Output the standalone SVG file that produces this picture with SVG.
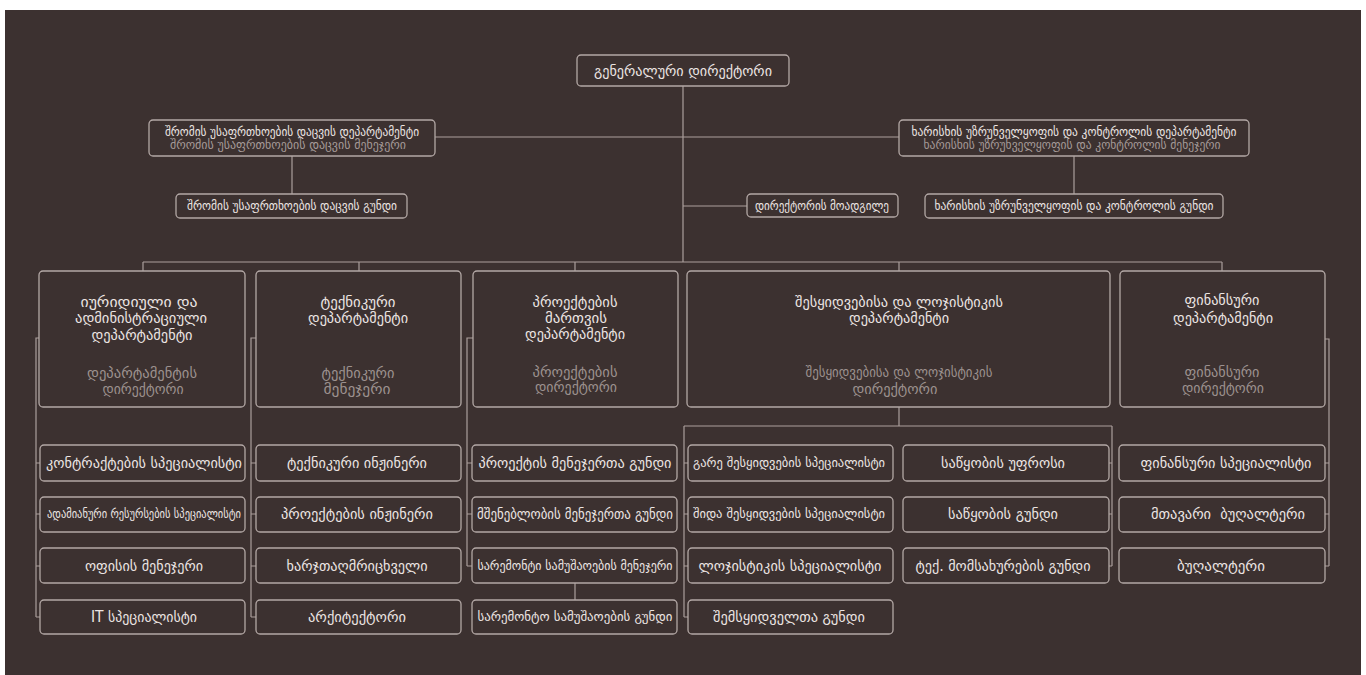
<svg xmlns="http://www.w3.org/2000/svg" width="1366" height="675" viewBox="0 0 1366 675">
<style>
.bg{fill:#3c3130}
.box{fill:#3c3130;stroke:#b3a8a5;stroke-width:1.3}
.ln{fill:none;stroke:#ab9f9c;stroke-width:1.2}
text{font-family:"DejaVu Sans","Noto Sans",sans-serif;text-anchor:middle}
.t{fill:#ece5e3;font-size:15px}
.s{fill:#9c918f;font-size:14px}
.m{fill:#ece5e3;font-size:13px}
.ms{fill:#a69b99;font-size:12.5px}
.c{fill:#ece5e3;font-size:15px}
.cs{fill:#ece5e3;font-size:12px}
</style>
<rect x="0" y="0" width="1366" height="675" fill="#ffffff"/>
<rect class="bg" x="5" y="10" width="1356" height="665"/>
<g id="connectors">
<path class="ln" d="M683,86V262M435,137H899M683,206H747M292,156V194M1074,156V194"/>
<path class="ln" d="M143,262H1222M143,262V271M359,262V271M575,262V271M899,262V271M1222,262V271"/>
<path class="ln" d="M39,338H36V617M36,463H40M36,514H40M36,566H40M36,617H40"/>
<path class="ln" d="M256,338H251V617M251,463H256M251,514H256M251,566H256M251,617H256"/>
<path class="ln" d="M473,338H467V566M467,463H472M467,514H472M467,566H472M575,583V600"/>
<path class="ln" d="M899,407V426M684,426H1112M684,426V617M684,463H688M684,514H688M684,566H688M684,617H688M1112,426V566M1112,463H1109M1112,514H1109M1112,566H1109"/>
<path class="ln" d="M1325,339H1329V566M1329,463H1325M1329,514H1325M1329,566H1325"/>
</g>
<g id="ceo"><rect class="box" x="577" y="55" width="212" height="31" rx="4"/><text class="t" x="683" y="76" textLength="178" lengthAdjust="spacingAndGlyphs">გენერალური დირექტორი</text></g>
<g id="safety-dept"><rect class="box" x="149" y="120" width="286" height="36" rx="4"/><text class="m" x="292" y="136" textLength="254" lengthAdjust="spacingAndGlyphs">შრომის უსაფრთხოების დაცვის დეპარტამენტი</text><text class="ms" x="288" y="149" textLength="236" lengthAdjust="spacingAndGlyphs">შრომის უსაფრთხოების დაცვის მენეჯერი</text></g>
<g id="quality-dept"><rect class="box" x="899" y="120" width="350" height="36" rx="4"/><text class="m" x="1074" y="136" textLength="325" lengthAdjust="spacingAndGlyphs">ხარისხის უზრუნველყოფის და კონტროლის დეპარტამენტი</text><text class="ms" x="1072" y="149" textLength="297" lengthAdjust="spacingAndGlyphs">ხარისხის უზრუნველყოფის და კონტროლის მენეჯერი</text></g>
<g id="safety-team"><rect class="box" x="176" y="194" width="231" height="24" rx="4"/><text class="m" x="292" y="210" textLength="210" lengthAdjust="spacingAndGlyphs">შრომის უსაფრთხოების დაცვის გუნდი</text></g>
<g id="deputy"><rect class="box" x="747" y="194" width="151" height="23" rx="4"/><text class="m" x="822" y="210" textLength="134" lengthAdjust="spacingAndGlyphs">დირექტორის მოადგილე</text></g>
<g id="quality-team"><rect class="box" x="925" y="194" width="298" height="24" rx="4"/><text class="m" x="1074" y="210" textLength="279" lengthAdjust="spacingAndGlyphs">ხარისხის უზრუნველყოფის და კონტროლის გუნდი</text></g>
<g id="legal-dept"><rect class="box" x="39" y="271" width="206" height="136" rx="4"/>
<text class="t" x="139" y="307" textLength="117" lengthAdjust="spacingAndGlyphs">იურიდიული და</text>
<text class="t" x="141" y="323" textLength="132" lengthAdjust="spacingAndGlyphs">ადმინისტრაციული</text>
<text class="t" x="142" y="340" textLength="101" lengthAdjust="spacingAndGlyphs">დეპარტამენტი</text>
<text class="s" x="142" y="378" textLength="110" lengthAdjust="spacingAndGlyphs">დეპარტამენტის</text>
<text class="s" x="143" y="394" textLength="81" lengthAdjust="spacingAndGlyphs">დირექტორი</text></g>
<g id="tech-dept"><rect class="box" x="256" y="271" width="205" height="136" rx="4"/>
<text class="t" x="358" y="307" textLength="75" lengthAdjust="spacingAndGlyphs">ტექნიკური</text>
<text class="t" x="358" y="323" textLength="100" lengthAdjust="spacingAndGlyphs">დეპარტამენტი</text>
<text class="s" x="358" y="378" textLength="73" lengthAdjust="spacingAndGlyphs">ტექნიკური</text>
<text class="s" x="357" y="394" textLength="67" lengthAdjust="spacingAndGlyphs">მენეჯერი</text></g>
<g id="pm-dept"><rect class="box" x="473" y="271" width="205" height="136" rx="4"/>
<text class="t" x="575" y="307" textLength="85" lengthAdjust="spacingAndGlyphs">პროექტების</text>
<text class="t" x="576" y="323" textLength="62" lengthAdjust="spacingAndGlyphs">მართვის</text>
<text class="t" x="575" y="339" textLength="100" lengthAdjust="spacingAndGlyphs">დეპარტამენტი</text>
<text class="s" x="575" y="377" textLength="85" lengthAdjust="spacingAndGlyphs">პროექტების</text>
<text class="s" x="576" y="392" textLength="82" lengthAdjust="spacingAndGlyphs">დირექტორი</text></g>
<g id="procurement-dept"><rect class="box" x="687" y="271" width="423" height="136" rx="4"/>
<text class="t" x="899" y="307" textLength="208" lengthAdjust="spacingAndGlyphs">შესყიდვებისა და ლოჯისტიკის</text>
<text class="t" x="899" y="323" textLength="100" lengthAdjust="spacingAndGlyphs">დეპარტამენტი</text>
<text class="s" x="899" y="377" textLength="187" lengthAdjust="spacingAndGlyphs">შესყიდვებისა და ლოჯისტიკის</text>
<text class="s" x="895" y="394" textLength="85" lengthAdjust="spacingAndGlyphs">დირექტორი</text></g>
<g id="finance-dept"><rect class="box" x="1120" y="271" width="205" height="136" rx="4"/>
<text class="t" x="1222" y="305" textLength="75" lengthAdjust="spacingAndGlyphs">ფინანსური</text>
<text class="t" x="1223" y="323" textLength="100" lengthAdjust="spacingAndGlyphs">დეპარტამენტი</text>
<text class="s" x="1222" y="377" textLength="75" lengthAdjust="spacingAndGlyphs">ფინანსური</text>
<text class="s" x="1223" y="393" textLength="82" lengthAdjust="spacingAndGlyphs">დირექტორი</text></g>
<g id="legal-1"><rect class="box" x="40" y="445" width="205" height="36" rx="4"/><text class="c" x="144" y="468" textLength="196" lengthAdjust="spacingAndGlyphs">კონტრაქტების სპეციალისტი</text></g>
<g id="legal-2"><rect class="box" x="40" y="497" width="205" height="35" rx="4"/><text class="cs" x="144" y="518" textLength="194" lengthAdjust="spacingAndGlyphs">ადამიანური რესურსების სპეციალისტი</text></g>
<g id="legal-3"><rect class="box" x="40" y="548" width="205" height="35" rx="4"/><text class="c" x="144" y="571" textLength="118" lengthAdjust="spacingAndGlyphs">ოფისის მენეჯერი</text></g>
<g id="legal-4"><rect class="box" x="40" y="600" width="205" height="34" rx="4"/><text class="c" x="144" y="622" textLength="106" lengthAdjust="spacingAndGlyphs">IT სპეციალისტი</text></g>
<g id="tech-1"><rect class="box" x="256" y="445" width="205" height="36" rx="4"/><text class="c" x="357" y="468" textLength="140" lengthAdjust="spacingAndGlyphs">ტექნიკური ინჟინერი</text></g>
<g id="tech-2"><rect class="box" x="256" y="497" width="205" height="35" rx="4"/><text class="c" x="357" y="519" textLength="152" lengthAdjust="spacingAndGlyphs">პროექტების ინჟინერი</text></g>
<g id="tech-3"><rect class="box" x="256" y="548" width="205" height="35" rx="4"/><text class="c" x="357" y="571" textLength="141" lengthAdjust="spacingAndGlyphs">ხარჯთაღმრიცხველი</text></g>
<g id="tech-4"><rect class="box" x="256" y="600" width="205" height="34" rx="4"/><text class="c" x="357" y="622" textLength="98" lengthAdjust="spacingAndGlyphs">არქიტექტორი</text></g>
<g id="pm-1"><rect class="box" x="472" y="445" width="205" height="36" rx="4"/><text class="c" x="575" y="468" textLength="193" lengthAdjust="spacingAndGlyphs">პროექტის მენეჯერთა გუნდი</text></g>
<g id="pm-2"><rect class="box" x="472" y="497" width="205" height="35" rx="4"/><text class="c" x="575" y="519" textLength="196" lengthAdjust="spacingAndGlyphs">მშენებლობის მენეჯერთა გუნდი</text></g>
<g id="pm-3"><rect class="box" x="472" y="548" width="205" height="35" rx="4"/><text class="cs" x="575" y="570" textLength="195" lengthAdjust="spacingAndGlyphs">სარემონტი სამუშაოების მენეჯერი</text></g>
<g id="pm-4"><rect class="box" x="472" y="600" width="205" height="34" rx="4"/><text class="cs" x="575" y="621" textLength="195" lengthAdjust="spacingAndGlyphs">სარემონტო სამუშაოების გუნდი</text></g>
<g id="proc-1"><rect class="box" x="688" y="445" width="205" height="36" rx="4"/><text class="cs" x="789" y="467" textLength="192" lengthAdjust="spacingAndGlyphs">გარე შესყიდვების სპეციალისტი</text></g>
<g id="proc-2"><rect class="box" x="688" y="497" width="205" height="35" rx="4"/><text class="cs" x="789" y="518" textLength="192" lengthAdjust="spacingAndGlyphs">შიდა შესყიდვების სპეციალისტი</text></g>
<g id="proc-3"><rect class="box" x="688" y="548" width="205" height="35" rx="4"/><text class="c" x="790" y="571" textLength="183" lengthAdjust="spacingAndGlyphs">ლოჯისტიკის სპეციალისტი</text></g>
<g id="proc-4"><rect class="box" x="688" y="600" width="205" height="34" rx="4"/><text class="c" x="789" y="622" textLength="152" lengthAdjust="spacingAndGlyphs">შემსყიდველთა გუნდი</text></g>
<g id="wh-1"><rect class="box" x="903" y="445" width="206" height="36" rx="4"/><text class="c" x="1003" y="468" textLength="124" lengthAdjust="spacingAndGlyphs">საწყობის უფროსი</text></g>
<g id="wh-2"><rect class="box" x="903" y="497" width="206" height="35" rx="4"/><text class="c" x="1003" y="519" textLength="110" lengthAdjust="spacingAndGlyphs">საწყობის გუნდი</text></g>
<g id="wh-3"><rect class="box" x="903" y="548" width="206" height="35" rx="4"/><text class="c" x="1003" y="571" textLength="175" lengthAdjust="spacingAndGlyphs">ტექ. მომსახურების გუნდი</text></g>
<g id="fin-1"><rect class="box" x="1119" y="445" width="206" height="36" rx="4"/><text class="c" x="1226" y="468" textLength="171" lengthAdjust="spacingAndGlyphs">ფინანსური სპეციალისტი</text></g>
<g id="fin-2"><rect class="box" x="1119" y="497" width="206" height="35" rx="4"/><text class="c" x="1228" y="519" textLength="154" lengthAdjust="spacingAndGlyphs" xml:space="preserve">მთავარი  ბუღალტერი</text></g>
<g id="fin-3"><rect class="box" x="1119" y="548" width="206" height="35" rx="4"/><text class="c" x="1221" y="571" textLength="88" lengthAdjust="spacingAndGlyphs">ბუღალტერი</text></g>
</svg>
